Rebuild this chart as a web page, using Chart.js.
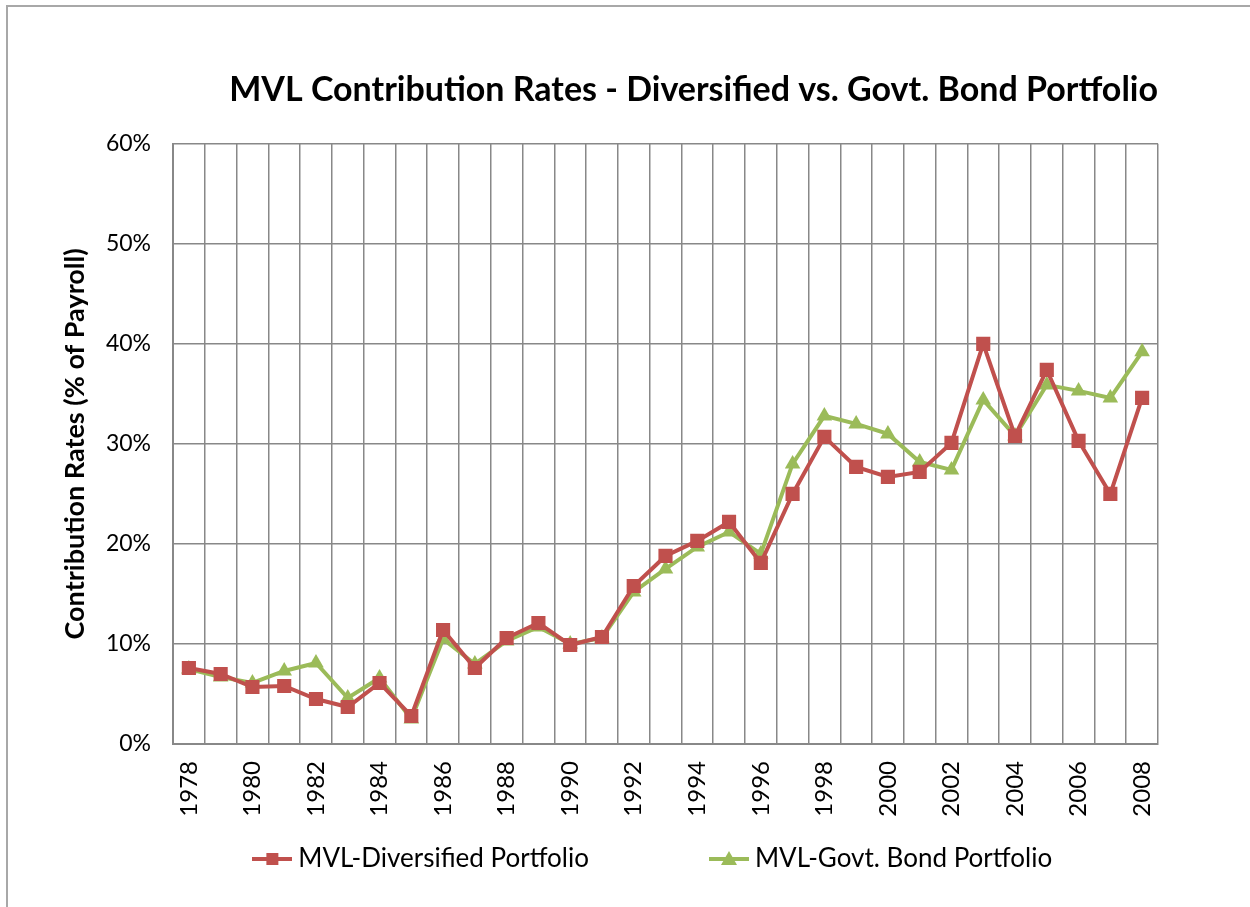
<!DOCTYPE html>
<html>
<head>
<meta charset="utf-8">
<script src="https://cdn.jsdelivr.net/npm/chart.js@4/dist/chart.umd.min.js"></script>
<style>
  html, body { margin: 0; padding: 0; background: #fff; overflow: hidden; }
  #frame { position: absolute; left: 6px; top: 5px; width: 1400px; height: 1000px;
           border-left: 2px solid #a8a8a8; border-top: 2px solid #a8a8a8; }
  #wrap { position: absolute; left: 0; top: 0; width: 1250px; height: 907px; }
</style>
</head>
<body>
<div id="frame"></div>
<div id="wrap"><canvas id="grafico" width="1250" height="907"></canvas></div>
<script>
// dados
const anos = ['1978','1979','1980','1981','1982','1983','1984','1985','1986','1987',
  '1988','1989','1990','1991','1992','1993','1994','1995','1996','1997',
  '1998','1999','2000','2001','2002','2003','2004','2005','2006','2007','2008']

const diversificado = [7.6, 7.0, 5.7, 5.8, 4.5, 3.7, 6.1, 2.8, 11.4, 7.6,
  10.6, 12.1, 9.9, 10.7, 15.8, 18.8, 20.3, 22.2, 18.1, 25.0,
  30.7, 27.7, 26.7, 27.2, 30.1, 40.0, 30.8, 37.4, 30.3, 25.0, 34.6]

const titulos = [7.5, 6.7, 6.1, 7.3, 8.1, 4.6, 6.6, 2.5, 10.5, 8.0,
  10.3, 11.7, 10.0, 10.6, 15.2, 17.5, 19.7, 21.2, 19.0, 28.0,
  32.8, 32.0, 31.0, 28.2, 27.4, 34.4, 30.8, 35.9, 35.3, 34.6, 39.2]

const vermelho = '#C0504D'
const verde = '#9BBB59'
const cinza = '#888888'
const fonte = 'Lato, "Open Sans", sans-serif'

// icone da legenda: linha com marcador
function iconeLegenda(cor, tipo){
  const c = document.createElement('canvas')
  c.width = 40
  c.height = 16
  const ctx = c.getContext('2d')
  ctx.strokeStyle = cor
  ctx.lineWidth = 4
  ctx.beginPath()
  ctx.moveTo(0, 8)
  ctx.lineTo(40, 8)
  ctx.stroke()
  ctx.fillStyle = cor
  if(tipo == 'rect'){
    ctx.fillRect(14, 2, 12, 12)
  }else{
    ctx.beginPath()
    ctx.moveTo(20, 0)
    ctx.lineTo(28, 14)
    ctx.lineTo(12, 14)
    ctx.closePath()
    ctx.fill()
  }
  return c
}

const grafico = new Chart(document.getElementById('grafico'), {
  type: 'line',
  data: {
    labels: anos,
    datasets: [{
      label: 'MVL-Diversified Portfolio',
      data: diversificado,
      borderColor: vermelho,
      backgroundColor: vermelho,
      borderWidth: 4,
      pointStyle: 'rect',
      pointRadius: 10,
      pointBorderWidth: 0,
      tension: 0
    }, {
      label: 'MVL-Govt. Bond Portfolio',
      data: titulos,
      borderColor: verde,
      backgroundColor: verde,
      borderWidth: 4,
      pointStyle: 'triangle',
      pointRadius: 9,
      pointBorderWidth: 0,
      tension: 0
    }]
  },
  options: {
    responsive: false,
    animation: false,
    layout: { padding: { left: 50, right: 92, top: 0, bottom: 25 } },
    plugins: {
      title: {
        display: true,
        text: 'MVL Contribution Rates - Diversified vs. Govt. Bond Portfolio',
        color: '#000',
        font: { family: fonte, size: 34, weight: 'bold' },
        padding: { top: 70, bottom: 33 },
        align: 'end'
      },
      legend: {
        position: 'bottom',
        fullSize: false,
        labels: {
          color: '#000',
          font: { family: fonte, size: 26 },
          usePointStyle: true,
          pointStyleWidth: 26,
          padding: 10,
          generateLabels: (chart) => {
            return chart.data.datasets.map((ds, i) => ({
              // espacos no fim do texto para afastar os dois itens
              text: ds.label + (i == 0 ? '\u2003\u2003\u2003\u2003\u2003\u2003' : '\u2003'),
              fillStyle: ds.borderColor,
              strokeStyle: ds.borderColor,
              pointStyle: iconeLegenda(ds.borderColor, i == 0 ? 'rect' : 'tri'),
              datasetIndex: i,
              fontColor: '#000'
            }))
          }
        }
      },
      tooltip: { enabled: false }
    },
    scales: {
      x: {
        offset: true,
        grid: { color: cinza, offset: true, drawTicks: false, lineWidth: 1.5 },
        border: { color: cinza, width: 2 },
        ticks: {
          color: '#000',
          font: { family: fonte, size: 24 },
          autoSkip: false,
          minRotation: 90,
          maxRotation: 90,
          padding: 17,
          callback: function(valor, indice){
            return indice % 2 == 0 ? this.getLabelForValue(valor) : ''
          }
        },
        afterFit: (escala) => { escala.height = 92 }
      },
      y: {
        min: 0,
        max: 60,
        grid: { color: cinza, drawTicks: false, lineWidth: 1.5 },
        border: { color: cinza, width: 2 },
        ticks: {
          stepSize: 10,
          color: '#000',
          font: { family: fonte, size: 23 },
          padding: 22,
          callback: (v) => v + '%'
        },
        title: {
          display: true,
          text: 'Contribution Rates (% of Payroll)',
          color: '#000',
          font: { family: fonte, size: 27, weight: 'bold' },
          padding: { top: 9, bottom: 0 }
        },
        afterFit: (escala) => { escala.width = 123 }
      }
    }
  }
})
</script>
</body>
</html>
